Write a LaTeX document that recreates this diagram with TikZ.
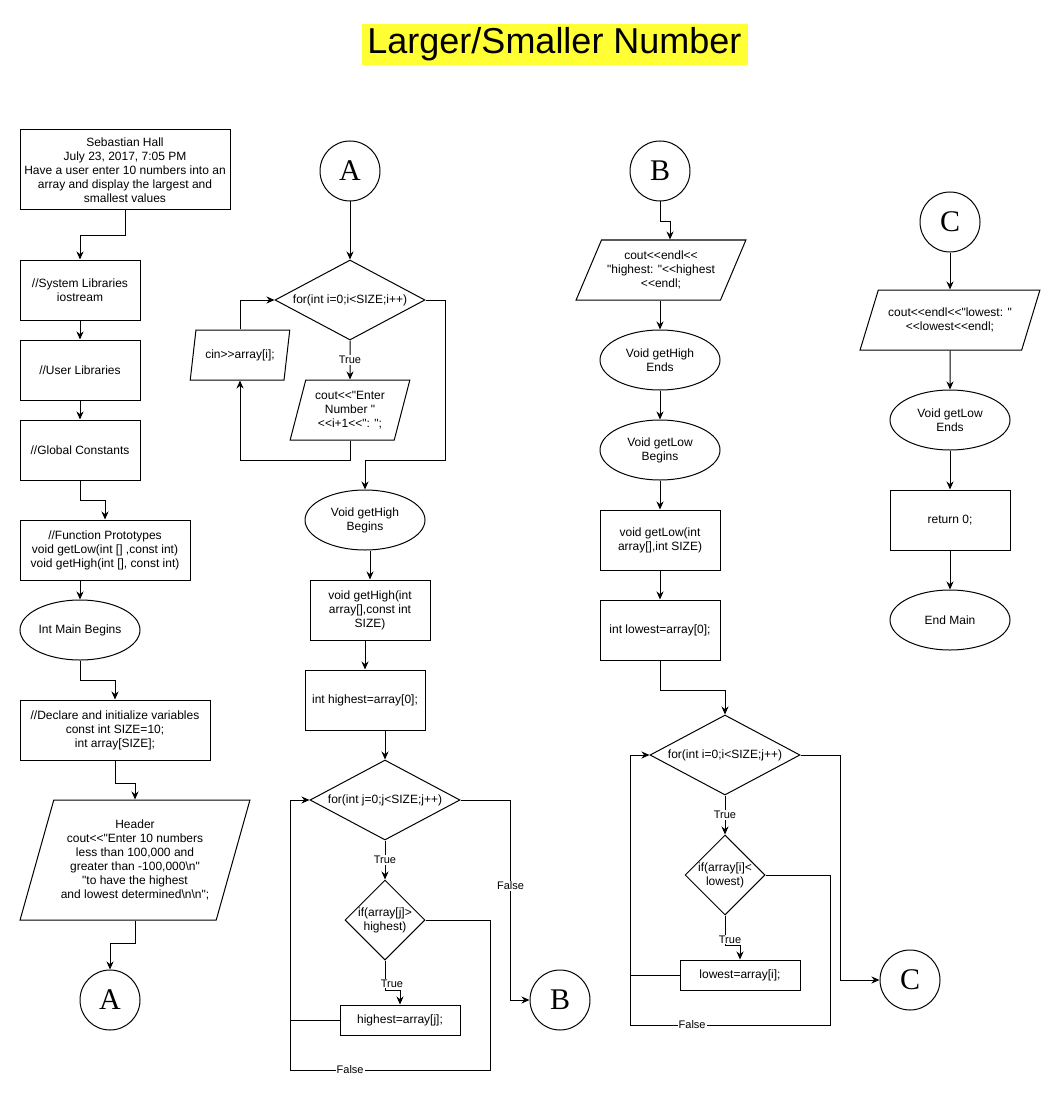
\documentclass[tikz,border=0pt]{standalone}
\usepackage{fontspec}
\newfontfamily\flowfont{Liberation Sans}
\newfontfamily\letterfont{Liberation Serif}
\usetikzlibrary{shapes.geometric, arrows.meta}
\definecolor{titlefill}{HTML}{FFFF33}

\begin{document}
\begin{tikzpicture}[
    x=1pt, y=-1pt,
    process/.style={rectangle, draw, minimum width=120pt, minimum height=60pt, align=center, inner sep=2pt},
    terminal/.style={ellipse, draw, minimum width=120pt, minimum height=60pt, align=center, inner sep=0pt},
    io/.style={trapezium, draw, trapezium stretches=true, minimum width=120pt, minimum height=60pt, align=center, inner sep=0pt},
    decision/.style={diamond, draw, aspect=1.875, minimum width=150pt, minimum height=80pt, align=center, inner sep=0pt},
    test/.style={decision, aspect=1, minimum width=80pt, minimum height=80pt},
    connector/.style={circle, draw, minimum size=60pt, inner sep=0pt, font=\letterfont\fontsize{30}{30}\selectfont},
    branch/.style={fill=white, inner sep=1pt, font=\flowfont\fontsize{11}{13}\selectfont},
    arrow/.style={-{Stealth[length=8pt, width=7pt]}},
    line width=1pt,
    every node/.append style={font=\flowfont\fontsize{12}{14}\selectfont}
]
    \useasboundingbox (0,0) rectangle (1061,1099);
    \node[fill=titlefill, minimum width=386pt, minimum height=41pt, inner sep=0pt, font=\flowfont\fontsize{36}{36}\selectfont] (title) at (554.5,44.5) {Larger/Smaller Number};

    % main
    \node[process, minimum width=210pt, minimum height=80pt] (info) at (125,170) {Sebastian Hall\\July 23, 2017, 7:05 PM\\Have a user enter 10 numbers into an\\array and display the largest and\\smallest values};
    \node[process] (sys) at (80,290) {//System Libraries\\iostream};
    \node[process] (user) at (80,370) {//User Libraries};
    \node[process] (global) at (80,450) {//Global Constants};
    \node[process, minimum width=170pt] (proto) at (105,550) {//Function Prototypes\\void getLow(int [] ,const int)\\void getHigh(int [], const int)};
    \node[terminal] (main) at (80,630) {Int Main Begins};
    \node[process, minimum width=190pt] (declare) at (115,730) {//Declare and initialize variables\\const int SIZE=10;\\int array[SIZE];};
    \node[io, minimum width=230pt, minimum height=120pt, trapezium left angle=69, trapezium right angle=111] (header) at (135,860) {Header\\cout<<"Enter 10 numbers\\less than 100,000 and\\greater than -100,000\textbackslash n"\\ "to have the highest\\and lowest determined\textbackslash n\textbackslash n";};
    \node[connector] (A1) at (110,1000) {A};

    % input loop and getHigh
    \node[connector] (A2) at (350,171) {A};
    \node[decision] (for1) at (350,300) {for(int i=0;i<SIZE;i++)};
    \node[io, minimum width=120pt, minimum height=60pt, trapezium left angle=72, trapezium right angle=108] (enter) at (350,410) {cout<<"Enter\\Number "\\<<i+1<<": ";};
    \node[io, minimum width=100pt, minimum height=50pt, trapezium left angle=68, trapezium right angle=112] (cin) at (240,355) {cin>>array[i];};
    \node[terminal] (highBegin) at (365,520) {Void getHigh\\Begins};
    \node[process] (highHead) at (370,610) {void getHigh(int\\array[],const int\\SIZE)};
    \node[process] (highInit) at (365,700) {int highest=array[0];};
    \node[decision] (for2) at (385,800) {for(int j=0;j<SIZE;j++)};
    \node[test] (ifHigh) at (385,920) {if(array[j]>\\highest)};
    \node[process, minimum height=30pt] (setHigh) at (400,1020) {highest=array[j];};
    \node[connector] (B1) at (560,1000) {B};
    \coordinate (loopHigh) at (290,1020);

    % getLow
    \node[connector] (B2) at (660,171) {B};
    \node[io, minimum width=170pt, minimum height=60pt, trapezium left angle=59, trapezium right angle=121] (outHigh) at (661,270) {cout<<endl<<\\"highest: "<<highest\\<<endl;};
    \node[terminal] (highEnd) at (660,360) {Void getHigh\\Ends};
    \node[terminal] (lowBegin) at (660,450) {Void getLow\\Begins};
    \node[process] (lowHead) at (660,540) {void getLow(int\\array[],int SIZE)};
    \node[process] (lowInit) at (660,630) {int lowest=array[0];};
    \node[decision] (for3) at (725,755) {for(int i=0;i<SIZE;j++)};
    \node[test] (ifLow) at (725,875) {if(array[i]<\\lowest)};
    \node[process, minimum height=30pt] (setLow) at (740,975) {lowest=array[i];};
    \node[connector] (C1) at (910,980) {C};
    \coordinate (loopLow) at (630,975);

    % end
    \node[connector] (C2) at (950,222) {C};
    \node[io, minimum width=180pt, minimum height=60pt, trapezium left angle=57, trapezium right angle=123] (outLow) at (950,320) {cout<<endl<<"lowest: "\\<<lowest<<endl;};
    \node[terminal] (lowEnd) at (950,420) {Void getLow\\Ends};
    \node[process] (ret) at (950,520) {return 0;};
    \node[terminal] (endMain) at (950,620) {End Main};

    \draw[arrow] (info.south) -- ++(0,25) -| (sys.north);
    \draw[arrow] (sys) -- (user);
    \draw[arrow] (user) -- (global);
    \draw[arrow] (global.south) -- ++(0,20) -| (proto.north);
    \draw[arrow] (main.north |- proto.south) -- (main.north);
    \draw[arrow] (main.south) -- ++(0,20) -| (declare.north);
    \draw[arrow] (declare.south) -- ++(0,23) -| (header.north);
    \draw[arrow] (header.south) -- ++(0,23) -| (A1.north);

    \draw[arrow] (A2) -- (for1);
    \draw[arrow] (for1.south) -- node[branch] {True} (enter.north);
    \draw[arrow] (enter.south) -- ++(0,20) -| (cin.south);
    \draw[arrow] (cin.north) |- (for1.west);
    \draw[arrow] (for1.east) -- ++(20,0) -- ++(0,160) -| (highBegin.north);
    \draw[arrow] (highHead.north |- highBegin.south) -- (highHead.north);
    \draw[arrow] (highInit.north |- highHead.south) -- (highInit.north);
    \draw[arrow] (for2.north |- highInit.south) -- (for2.north);
    \draw[arrow] (for2.south) -- node[branch] {True} (ifHigh.north);
    \draw[arrow] (ifHigh.south) -- node[branch, pos=0.77, xshift=7pt] {True} ++(0,30) -| (setHigh.north);
    \draw (setHigh.west) -- (loopHigh);
    \draw[arrow] (loopHigh) |- (for2.west);
    \draw (ifHigh.east) -| ++(65,150) -| node[branch, pos=0.35] {False} (loopHigh);
    \draw[arrow] (for2.east) -- ++(50,0) |- node[branch, pos=0.215] {False} (B1.west);

    \draw[arrow] (B2.south) -- ++(0,20) -| ([xshift=9pt]outHigh.north);
    \draw[arrow] (highEnd.north |- outHigh.south) -- (highEnd.north);
    \draw[arrow] (highEnd) -- (lowBegin);
    \draw[arrow] (lowBegin) -- (lowHead);
    \draw[arrow] (lowHead) -- (lowInit);
    \draw[arrow] (lowInit.south) -- ++(0,30) -| (for3.north);
    \draw[arrow] (for3.south) -- node[branch] {True} (ifLow.north);
    \draw[arrow] (ifLow.south) -- node[branch, pos=0.8, xshift=5pt] {True} ++(0,30) -| (setLow.north);
    \draw (setLow.west) -- (loopLow);
    \draw[arrow] (loopLow) |- (for3.west);
    \draw (ifLow.east) -| ++(65,150) -| node[branch, pos=0.345] {False} (loopLow);
    \draw[arrow] (for3.east) -- ++(40,0) |- (C1.west);

    \draw[arrow] (C2) -- (outLow);
    \draw[arrow] (outLow) -- (lowEnd);
    \draw[arrow] (lowEnd) -- (ret);
    \draw[arrow] (ret) -- (endMain);
\end{tikzpicture}
\end{document}
